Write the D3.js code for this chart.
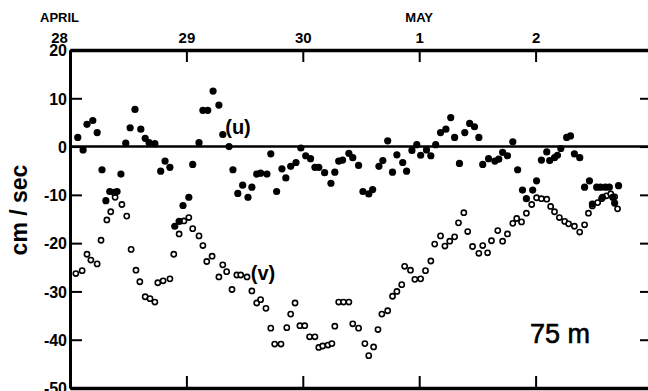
<!DOCTYPE html>
<html>
<head>
<meta charset="utf-8">
<script src="https://cdn.jsdelivr.net/npm/d3@7"></script>
<style>
  body { margin: 0; background: #fff; }
  svg { display: block; }
  text { font-family: "Liberation Sans", Arial, sans-serif; fill: #000; }
</style>
</head>
<body>
<svg id="chart" width="648" height="391"></svg>
<script>
// hours since April 28, 00:00
const uHours = [1.6, 2.7, 3.5, 4.7, 5.6, 6.6, 7.4, 8.2, 9.1, 9.7, 10.5, 11.5, 12.4, 13.4, 14.6, 15.5, 16.3, 17.5,
  18.7, 19.6, 20.6, 21.6, 22.5, 23.3, 24.5, 25.3, 26.6, 27.4, 28.4, 29.5, 30.7, 31.5, 32.8, 33.6, 34.6, 35.6,
  36.7, 37.5, 38.5, 39.3, 40.6, 41.4, 42.6, 43.7, 44.5, 45.5, 46.6, 47.6, 48.6, 49.6, 50.5, 51.3, 52.5, 53.8,
  54.6, 55.4, 56.2, 57.5, 58.3, 59.5, 60.4, 61.6, 62.4, 63.7, 64.5, 65.5, 66.5, 67.4, 68.6, 69.4, 70.5, 71.5,
  72.3, 73.5, 74.4, 75.4, 76.4, 77.5, 78.5, 79.3, 80.3, 81.4, 82.4, 83.4, 84.3, 85.1, 86.3, 87.6, 88.4, 89.2,
  90.2, 91.3, 92.3, 93.3, 94.1, 95.4, 96.2, 97.2, 98.3, 98.9, 99.9, 100.5, 101.2, 102.4, 103.2, 104.0, 105.1,
  106.1, 107.1, 107.7, 108.6, 109.4, 109.8, 110.4, 111.2, 111.9, 112.3, 113.1];
const uValues = [1.9, -0.7, 4.6, 5.4, 2.9, -4.8, -11.2, -9.3, -9.5, -9.3, -5.7, 0.7, 3.9, 7.7, 3.6, 1.7, 0.8, 0.6,
  -5.1, -3.0, -4.3, -16.5, -15.5, -12.2, -10.5, -3.7, 0.8, 7.5, 7.5, 11.5, 8.6, 2.5, 0.0, -4.8, -9.7, -8.0,
  -10.5, -8.4, -5.7, -5.5, -5.7, -1.5, -9.3, -4.6, -6.5, -4.1, -3.3, -0.3, -1.9, -2.5, -4.3, -4.3, -5.4, -7.6,
  -5.3, -3.0, -2.8, -1.4, -2.3, -3.9, -9.3, -9.8, -8.9, -4.1, -2.9, 1.2, -5.3, -1.7, -3.3, -5.1, -0.8, 0.4,
  -1.8, -0.7, -1.9, 0.4, 2.9, 3.6, 6.0, 1.9, -3.5, 2.9, 4.8, 4.1, 1.9, -3.7, -2.5, -3.0, -2.6, -1.2,
  -1.9, 1.0, -4.8, -9.0, -10.8, -9.0, -7.1, -2.8, -1.1, -2.9, -2.3, -1.8, -0.4, 1.9, 2.2, -1.5, -2.3,
  -8.4, -7.1, -11.9, -8.4, -8.4, -10.5, -8.4, -8.4, -10.5, -11.7, -8.1];

const vHours = [1.2, 2.5, 3.5, 4.3, 5.6, 6.4, 7.6, 8.4, 9.3, 10.7, 11.7, 12.6, 13.6, 14.4, 15.5, 16.5, 17.5, 18.1,
  19.2, 20.6, 21.4, 22.5, 23.5, 24.5, 25.3, 26.6, 27.4, 28.2, 29.3, 30.7, 31.5, 32.3, 33.4, 34.4, 35.2, 36.5,
  37.5, 38.5, 39.3, 40.4, 41.4, 42.2, 43.5, 44.7, 45.5, 46.4, 47.4, 48.4, 49.4, 50.5, 51.3, 52.1, 53.2, 54.0,
  54.6, 55.4, 56.4, 57.5, 58.3, 59.5, 60.8, 61.6, 62.6, 63.5, 64.3, 65.5, 66.5, 67.4, 68.4, 69.0, 70.2, 71.1,
  72.3, 73.3, 74.4, 75.2, 76.4, 77.3, 78.3, 79.3, 80.1, 81.2, 82.0, 83.0, 84.3, 85.1, 86.1, 86.9, 88.2, 89.2,
  90.2, 91.3, 92.1, 93.1, 94.1, 95.2, 96.2, 97.2, 98.3, 99.1, 99.9, 100.9, 102.0, 102.8, 104.0, 105.1, 106.1,
  106.9, 107.7, 108.8, 109.6, 110.6, 111.5, 112.3, 112.9];
const vValues = [-26.3, -25.7, -22.3, -23.5, -24.3, -19.4, -15.2, -13.5, -10.5, -12.0, -14.4, -21.3, -25.6, -28.0,
  -31.1, -31.5, -32.2, -28.2, -27.8, -27.4, -22.3, -18.1, -15.4, -14.7, -17.0, -18.5, -20.5, -23.8, -22.7,
  -27.0, -24.5, -25.9, -29.6, -26.6, -26.6, -27.0, -29.9, -32.4, -31.7, -33.5, -37.6, -40.9, -40.9, -37.5,
  -34.7, -32.4, -37.1, -37.1, -39.4, -39.4, -41.6, -41.3, -41.1, -40.8, -37.2, -32.2, -32.2, -32.2, -36.7,
  -37.6, -40.8, -43.3, -41.5, -37.9, -34.7, -34.0, -31.0, -30.0, -28.6, -24.8, -25.6, -27.5, -27.4, -25.7,
  -23.7, -20.2, -18.5, -20.6, -19.6, -18.7, -15.8, -13.7, -17.6, -20.7, -22.1, -20.5, -22.0, -19.5, -17.4,
  -19.6, -18.1, -15.9, -14.9, -15.6, -13.8, -12.0, -10.6, -10.8, -10.9, -12.4, -13.5, -14.7, -15.5, -16.0,
  -16.5, -17.7, -16.2, -13.8, -12.3, -11.6, -10.8, -10.2, -9.8, -10.4, -12.9];

const dayTicks = [0, 24, 48, 72, 96, 120];
const dayLabels = ["28", "29", "30", "1", "2", "3"];
const monthLabels = [{ hour: 0, text: "APRIL" }, { hour: 72, text: "MAY" }];
const yTicks = [20, 10, 0, -10, -20, -30, -40, -50];
const yLabels = ["20", "10", "0", "-10", "-20", "-30", "-40", "-50"];

const svg = d3.select('#chart');
const plotLeft = 70, plotRight = 652, plotTop = 50, plotBottom = 388;

const x = d3.scaleLinear().domain([0, 120]).range([plotLeft, plotRight]);
const y = d3.scaleLinear().domain([-50, 20]).range([plotBottom, plotTop]);

function styleAxis(g, width) {
  g.select('.domain').attr('stroke', '#000').attr('stroke-width', width);
  g.selectAll('.tick line').attr('stroke', '#000').attr('stroke-width', 2);
  g.selectAll('.tick text')
    .style('font-family', '"Liberation Sans", Arial, sans-serif')
    .style('font-weight', 'bold')
    .attr('fill', '#000');
}

// left axis, ticks pointing inward
const yAxisLeft = d3.axisLeft(y)
  .tickValues(yTicks)
  .tickFormat((d, i) => yLabels[i])
  .tickSizeInner(-12)
  .tickSizeOuter(0)
  .tickPadding(3);
svg.append('g')
  .attr('transform', 'translate(' + plotLeft + ',0)')
  .call(yAxisLeft)
  .call(g => styleAxis(g, 3))
  .call(g => g.selectAll('.tick text').style('font-size', '16px').attr('dy', '0.36em'));

// right axis, no labels
svg.append('g')
  .attr('transform', 'translate(' + plotRight + ',0)')
  .call(d3.axisRight(y).tickValues(yTicks).tickFormat('').tickSizeInner(-12).tickSizeOuter(0))
  .call(g => styleAxis(g, 3));

// top axis with day labels
svg.append('g')
  .attr('transform', 'translate(0,' + plotTop + ')')
  .call(d3.axisTop(x)
    .tickValues(dayTicks)
    .tickFormat((d, i) => dayLabels[i])
    .tickSizeInner(-12)
    .tickSizeOuter(0)
    .tickPadding(7))
  .call(g => styleAxis(g, 3.5))
  .call(g => g.selectAll('.tick text').style('font-size', '15px'))
  .call(g => g.selectAll('.tick').filter(d => d === 0).select('text').attr('dx', -11));

// bottom axis
svg.append('g')
  .attr('transform', 'translate(0,' + plotBottom + ')')
  .call(d3.axisBottom(x).tickValues(dayTicks).tickFormat('').tickSizeInner(-12).tickSizeOuter(0))
  .call(g => styleAxis(g, 3.5));

// month names
svg.selectAll('.month')
  .data(monthLabels)
  .enter().append('text')
  .attr('class', 'month')
  .attr('x', d => d.hour === 0 ? x(d.hour) - 30 : x(d.hour))
  .attr('y', 22)
  .attr('text-anchor', d => d.hour === 0 ? 'start' : 'middle')
  .style('font-size', '13px')
  .style('font-weight', 'bold')
  .text(d => d.text);

// zero line
svg.append('line')
  .attr('x1', x(0)).attr('x2', x(120))
  .attr('y1', y(0)).attr('y2', y(0))
  .attr('stroke', '#000').attr('stroke-width', 2.5);

// v: open circles
svg.append('g').selectAll('circle')
  .data(vHours.map((h, i) => ({ h: h, v: vValues[i] })))
  .enter().append('circle')
  .attr('cx', d => x(d.h))
  .attr('cy', d => y(d.v))
  .attr('r', 2.6)
  .attr('fill', '#fff')
  .attr('stroke', '#000')
  .attr('stroke-width', 1.6);

// u: filled circles
svg.append('g').selectAll('circle')
  .data(uHours.map((h, i) => ({ h: h, v: uValues[i] })))
  .enter().append('circle')
  .attr('cx', d => x(d.h))
  .attr('cy', d => y(d.v))
  .attr('r', 3.6)
  .attr('fill', '#000');

// series labels
svg.append('text')
  .attr('x', 238).attr('y', 134)
  .attr('text-anchor', 'middle')
  .style('font-size', '20px').style('font-weight', 'bold')
  .text('(u)');
svg.append('text')
  .attr('x', 263).attr('y', 280)
  .attr('text-anchor', 'middle')
  .style('font-size', '20px').style('font-weight', 'bold')
  .text('(v)');

// depth label
svg.append('text')
  .attr('x', 560).attr('y', 343)
  .attr('text-anchor', 'middle')
  .style('font-size', '27px')
  .style('stroke', '#000').style('stroke-width', 0.6)
  .text('75 m');

// y axis title
svg.append('text')
  .attr('transform', 'translate(27,210) rotate(-90)')
  .attr('text-anchor', 'middle')
  .style('font-size', '23px').style('font-weight', 'bold')
  .text('cm / sec');
</script>
</body>
</html>
